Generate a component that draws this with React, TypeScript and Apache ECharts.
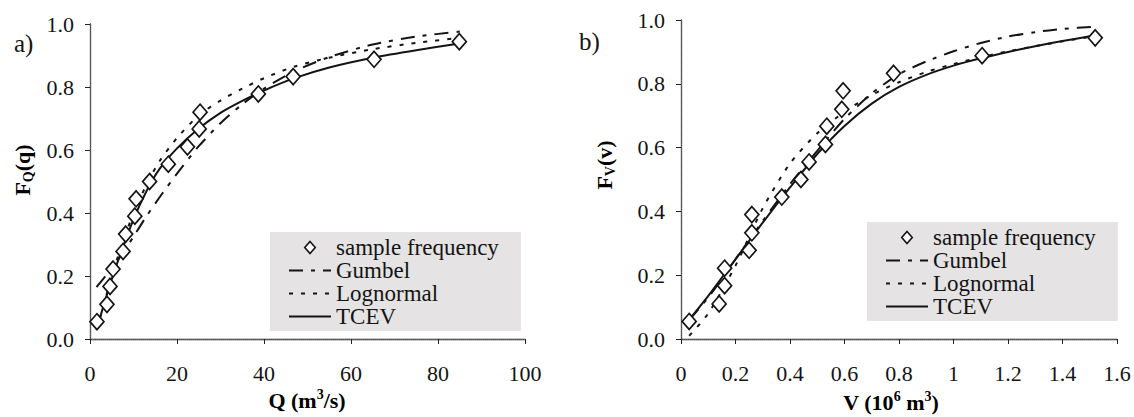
import React, { useEffect, useRef } from "react";
import * as echarts from "echarts";

const FONT = '"Liberation Serif", "Times New Roman", serif';

// ---- Panel a): discharge Q (m3/s) ----
const qSample = [1.6, 3.9, 4.6, 5.3, 7.6, 8.2, 10.3, 10.6, 13.7, 18.0, 22.4, 25.1, 25.3, 38.7, 46.7, 65.3, 84.9];
const fqSample = [0.055, 0.11, 0.167, 0.222, 0.278, 0.333, 0.39, 0.445, 0.5, 0.555, 0.61, 0.667, 0.72, 0.778, 0.833, 0.888, 0.944];
const qCurve = [1.5, 3, 5, 7, 10, 13, 16, 20, 25, 30, 35, 40, 47, 55, 65, 75, 85];
const fqGumbel = [0.165, 0.19, 0.225, 0.262, 0.325, 0.39, 0.45, 0.525, 0.612, 0.685, 0.745, 0.795, 0.85, 0.895, 0.935, 0.96, 0.976];
const fqLognormal = [0.03, 0.1, 0.2, 0.285, 0.4, 0.49, 0.565, 0.638, 0.71, 0.757, 0.795, 0.828, 0.865, 0.893, 0.92, 0.94, 0.956];
const fqTCEV = [0.03, 0.1, 0.19, 0.27, 0.38, 0.47, 0.54, 0.605, 0.668, 0.718, 0.756, 0.789, 0.828, 0.862, 0.893, 0.917, 0.938];

// ---- Panel b): volume V (10^6 m3) ----
const vSample = [0.03, 0.14, 0.16, 0.16, 0.25, 0.26, 0.26, 0.37, 0.44, 0.47, 0.53, 0.535, 0.59, 0.595, 0.78, 1.105, 1.52];
const fvSample = [0.055, 0.11, 0.167, 0.222, 0.278, 0.333, 0.39, 0.445, 0.5, 0.555, 0.61, 0.667, 0.72, 0.778, 0.833, 0.888, 0.944];
const vCurve = [0.03, 0.1, 0.2, 0.3, 0.4, 0.5, 0.6, 0.7, 0.8, 0.9, 1.0, 1.1, 1.2, 1.3, 1.4, 1.52];
const fvGumbel = [0.06, 0.13, 0.25, 0.37, 0.485, 0.59, 0.69, 0.77, 0.83, 0.87, 0.902, 0.928, 0.948, 0.962, 0.972, 0.979];
const fvLognormal = [0.01, 0.08, 0.23, 0.41, 0.55, 0.645, 0.712, 0.765, 0.805, 0.837, 0.862, 0.883, 0.902, 0.918, 0.933, 0.95];
const fvTCEV = [0.06, 0.135, 0.25, 0.365, 0.475, 0.58, 0.668, 0.738, 0.79, 0.828, 0.857, 0.88, 0.9, 0.918, 0.934, 0.952];

const zip = (xs: number[], ys: number[]) => xs.map((x, i) => [x, ys[i]]);

const INK = "#141414";
const DIAMOND = "path://M7,0 L14,8 L7,16 L0,8 Z";

function buildSeries(
  xi: number,
  yi: number,
  xs: number[],
  fs: number[],
  xc: number[],
  g: number[],
  l: number[],
  t: number[]
) {
  const line = (name: string, ys: number[], type: any) => ({
    name,
    type: "line",
    xAxisIndex: xi,
    yAxisIndex: yi,
    data: zip(xc, ys),
    smooth: 0.25,
    symbol: "none",
    lineStyle: { color: INK, width: 2, type },
    itemStyle: { color: INK },
    z: 3,
  });
  return [
    line("Gumbel", g, [14, 8, 4, 8]),
    line("Lognormal", l, [4, 8]),
    line("TCEV", t, "solid"),
    {
      name: "sample frequency",
      type: "scatter",
      xAxisIndex: xi,
      yAxisIndex: yi,
      data: zip(xs, fs),
      symbol: "diamond",
      symbolSize: [14, 16],
      itemStyle: { color: "#ffffff", borderColor: INK, borderWidth: 1.7, opacity: 1 },
      z: 6,
    },
  ];
}

const axisLabelStyle = { fontFamily: FONT, fontSize: 22, color: INK };

function bottomAxis(grid: number, min: number, max: number, interval: number) {
  return {
    type: "value",
    gridIndex: grid,
    min,
    max,
    interval,
    position: "bottom",
    axisLine: { show: true, lineStyle: { color: "#222", width: 1.3 } },
    axisTick: { show: true, inside: false, length: 5, lineStyle: { color: "#222" } },
    axisLabel: { ...axisLabelStyle, margin: 23 },
    splitLine: { show: false },
  };
}
function topAxis(grid: number, min: number, max: number) {
  return {
    type: "value",
    gridIndex: grid,
    min,
    max,
    position: "top",
    axisLine: { show: true, lineStyle: { color: "#666", width: 1, type: [1, 1] } },
    axisTick: { show: false },
    axisLabel: { show: false },
    splitLine: { show: false },
  };
}
function leftAxis(grid: number) {
  return {
    type: "value",
    gridIndex: grid,
    min: 0,
    max: 1,
    interval: 0.2,
    position: "left",
    axisLine: { show: true, lineStyle: { color: "#222", width: 1.3 } },
    axisTick: { show: true, inside: false, length: 5, lineStyle: { color: "#222" } },
    axisLabel: { ...axisLabelStyle, margin: 16, formatter: (v: number) => v.toFixed(1) },
    splitLine: { show: false },
  };
}
function rightAxis(grid: number) {
  return {
    type: "value",
    gridIndex: grid,
    min: 0,
    max: 1,
    position: "right",
    axisLine: { show: true, lineStyle: { color: "#666", width: 1, type: [1, 1] } },
    axisTick: { show: false },
    axisLabel: { show: false },
    splitLine: { show: false },
  };
}

const hidden = { color: "rgba(0,0,0,0)", borderWidth: 0, opacity: 0 };

function legendCfg(left: number, top: number) {
  return {
    orient: "vertical",
    left,
    top,
    itemWidth: 42,
    itemHeight: 12,
    itemGap: 0,
    padding: [4, 22, 3, 18],
    backgroundColor: "#e5e3e3",
    borderRadius: 0,
    symbolKeepAspect: true,
    textStyle: { fontFamily: FONT, fontSize: 23, color: INK, lineHeight: 23 },
    data: [
      { name: "sample frequency", icon: DIAMOND, itemStyle: { color: "#ffffff", borderColor: INK, borderWidth: 1.6 } },
      { name: "Gumbel", itemStyle: hidden },
      { name: "Lognormal", itemStyle: hidden },
      { name: "TCEV", itemStyle: hidden },
    ],
    selectedMode: false,
  };
}

const bold = { fontFamily: FONT, fontSize: 22, fontWeight: "bold", color: INK, lineHeight: 24 };
const sub = { fontFamily: FONT, fontSize: 14, fontWeight: "bold", color: INK, lineHeight: 14, padding: [12, 0, 0, 0] };
const sup = { fontFamily: FONT, fontSize: 14, fontWeight: "bold", color: INK, lineHeight: 14, padding: [0, 0, 12, 0] };
const richSet = { b: bold, s: sub, p: sup };

export default function App() {
  const ref = useRef<HTMLDivElement>(null);
  useEffect(() => {
    if (!ref.current) return;
    const chart = echarts.init(ref.current, undefined, { renderer: "svg" });
    chart.setOption({
      animation: false,
      backgroundColor: "#ffffff",
      grid: [
        { left: 90, top: 24, width: 435, height: 315 },
        { left: 681, top: 20, width: 436, height: 319 },
      ],
      xAxis: [bottomAxis(0, 0, 100, 20), topAxis(0, 0, 100), bottomAxis(1, 0, 1.6, 0.2), topAxis(1, 0, 1.6)],
      yAxis: [leftAxis(0), rightAxis(0), leftAxis(1), rightAxis(1)],
      legend: [legendCfg(270, 232), legendCfg(867, 222)],
      series: [
        ...buildSeries(0, 0, qSample, fqSample, qCurve, fqGumbel, fqLognormal, fqTCEV),
        ...buildSeries(2, 2, vSample, fvSample, vCurve, fvGumbel, fvLognormal, fvTCEV),
      ],
      graphic: [
        { type: "text", x: 14, y: 43, style: { text: "a)", fontFamily: FONT, fontSize: 25, fill: INK, verticalAlign: "middle" } },
        { type: "text", x: 579, y: 41, style: { text: "b)", fontFamily: FONT, fontSize: 25, fill: INK, verticalAlign: "middle" } },
        {
          type: "text",
          x: 22,
          y: 170,
          rotation: Math.PI / 2,
          style: { text: "{b|F}{s|Q}{b|(q)}", rich: richSet, align: "center", verticalAlign: "middle" },
        },
        {
          type: "text",
          x: 604,
          y: 165,
          rotation: Math.PI / 2,
          style: { text: "{b|F}{s|V}{b|(v)}", rich: richSet, align: "center", verticalAlign: "middle" },
        },
        {
          type: "text",
          x: 307,
          y: 400,
          style: { text: "{b|Q (m}{p|3}{b|/s)}", rich: richSet, align: "center", verticalAlign: "middle" },
        },
        {
          type: "text",
          x: 891,
          y: 402,
          style: { text: "{b|V (10}{p|6}{b| m}{p|3}{b|)}", rich: richSet, align: "center", verticalAlign: "middle" },
        },
      ],
    });
    return () => chart.dispose();
  }, []);
  return (
    <div
      ref={ref}
      style={{ position: "fixed", left: 0, top: 0, width: 1134, height: 417, background: "#fff" }}
    />
  );
}
